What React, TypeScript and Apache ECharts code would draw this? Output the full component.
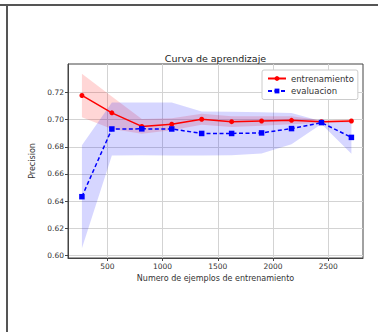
import React, { useEffect, useRef } from "react";
import * as echarts from "echarts";

const trainSizes = [270, 541, 812, 1083, 1354, 1625, 1896, 2167, 2438, 2709];
const trainMean = [0.7178, 0.705, 0.695, 0.6966, 0.7003, 0.6985, 0.699, 0.6995, 0.6985, 0.699];
const trainStd = [0.016, 0.012, 0.0055, 0.0045, 0.004, 0.004, 0.0035, 0.003, 0.001, 0.001];
const testMean = [0.6432, 0.6931, 0.6932, 0.6931, 0.6898, 0.6898, 0.6902, 0.6934, 0.6978, 0.6869];
const testStd = [0.038, 0.0195, 0.0195, 0.0195, 0.0162, 0.016, 0.0152, 0.0115, 0.001, 0.012];
const xTicks = [500, 1000, 1500, 2000, 2500];
const yTicks = [0.6, 0.62, 0.64, 0.66, 0.68, 0.7, 0.72];

const FONT = "DejaVu Sans";

function bandSeries(name: string, mean: number[], std: number[], fill: string) {
  const data = trainSizes.map((x, i) => [x, mean[i] - std[i], mean[i] + std[i]]);
  return {
    type: "custom",
    name,
    silent: true,
    z: 1,
    encode: { x: 0, y: [1, 2] },
    data,
    renderItem: (params: any, api: any) => {
      if (params.dataIndex !== 0) return null;
      const upper = data.map((d) => api.coord([d[0], d[2]]));
      const lower = data.map((d) => api.coord([d[0], d[1]])).reverse();
      return {
        type: "polygon",
        shape: { points: upper.concat(lower) },
        style: { fill, stroke: "none" },
      };
    },
  };
}

export default function App() {
  const ref = useRef<HTMLDivElement>(null);
  useEffect(() => {
    if (!ref.current) return;
    const chart = echarts.init(ref.current, undefined, { renderer: "svg" });
    const axisText = { fontFamily: FONT, fontSize: 7.5, color: "#333" };
    chart.setOption({
      animation: false,
      backgroundColor: "#fff",
      graphic: [
        { type: "line", shape: { x1: 0, y1: 5, x2: 378, y2: 5 }, style: { stroke: "#555", lineWidth: 2 } },
        { type: "line", shape: { x1: 7, y1: 5, x2: 7, y2: 332 }, style: { stroke: "#555", lineWidth: 2 } },
        {
          type: "text",
          x: 215.5,
          y: 58,
          style: {
            text: "Curva de aprendizaje",
            textAlign: "center",
            textVerticalAlign: "middle",
            fontFamily: FONT,
            fontSize: 9.5,
            fill: "#222",
          },
        },
      ],
      grid: {
        left: 68,
        right: 15,
        top: 64,
        bottom: 74,
        show: true,
        borderColor: "#444",
        borderWidth: 1,
        backgroundColor: "transparent",
      },
      legend: {
        orient: "vertical",
        left: 262,
        top: 70,
        padding: [4, 4, 4, 5],
        itemWidth: 18,
        itemHeight: 6,
        itemGap: 3.5,
        backgroundColor: "#fff",
        borderColor: "#ccc",
        borderWidth: 1,
        borderRadius: 2,
        textStyle: { fontFamily: FONT, fontSize: 8.5, color: "#333" },
        data: ["entrenamiento", "evaluacion"],
      },
      xAxis: {
        type: "value",
        min: 144,
        max: 2814,
        name: "Numero de ejemplos de entrenamiento",
        nameLocation: "middle",
        nameGap: 16,
        nameTextStyle: { fontFamily: FONT, fontSize: 8, color: "#333" },
        axisLine: { show: true, lineStyle: { color: "#444", width: 1 } },
        axisTick: { show: true, inside: false, length: 3, customValues: xTicks, lineStyle: { color: "#444" } },
        axisLabel: { ...axisText, margin: 4, customValues: xTicks, formatter: (v: number) => String(v) },
        splitLine: { show: true, lineStyle: { color: "#d3d3d3", width: 1 } },
      },
      yAxis: {
        type: "value",
        min: 0.598,
        max: 0.741,
        name: "Precision",
        nameLocation: "middle",
        nameRotate: 90,
        nameGap: 26,
        nameTextStyle: { fontFamily: FONT, fontSize: 8, color: "#333" },
        axisLine: { show: true, lineStyle: { color: "#444", width: 1 } },
        axisTick: { show: true, inside: false, length: 3, customValues: yTicks, lineStyle: { color: "#444" } },
        axisLabel: { ...axisText, margin: 4, customValues: yTicks, formatter: (v: number) => v.toFixed(2) },
        splitLine: { show: true, lineStyle: { color: "#d3d3d3", width: 1 } },
      },
      series: [
        bandSeries("trainBand", trainMean, trainStd, "rgba(255,0,0,0.16)"),
        bandSeries("testBand", testMean, testStd, "rgba(0,0,255,0.16)"),
        {
          type: "line",
          name: "entrenamiento",
          z: 3,
          data: trainSizes.map((x, i) => [x, trainMean[i]]),
          symbol: "circle",
          symbolSize: 5,
          showAllSymbol: true,
          lineStyle: { color: "#ff0000", width: 1.5 },
          itemStyle: { color: "#ff0000" },
        },
        {
          type: "line",
          name: "evaluacion",
          z: 3,
          data: trainSizes.map((x, i) => [x, testMean[i]]),
          symbol: "rect",
          symbolSize: 5.5,
          showAllSymbol: true,
          lineStyle: { color: "#0000ff", width: 1.5, type: [4, 2.5] },
          itemStyle: { color: "#0000ff" },
        },
      ],
    });
    return () => chart.dispose();
  }, []);
  return (
    <div
      ref={ref}
      style={{ position: "absolute", left: 0, top: 0, width: 378, height: 332 }}
    />
  );
}
